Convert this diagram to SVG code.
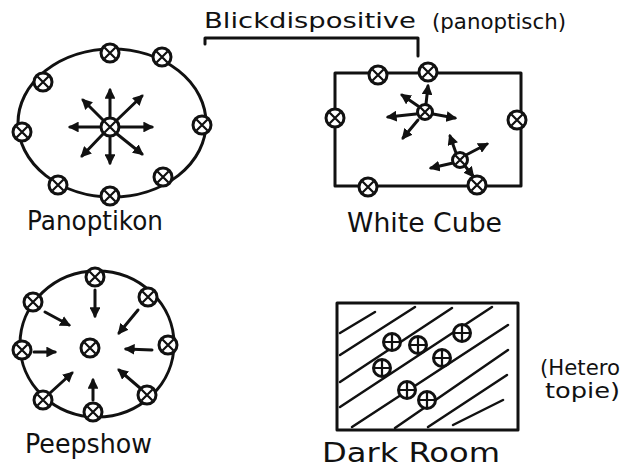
<svg xmlns="http://www.w3.org/2000/svg" width="626" height="467" viewBox="0 0 626 467">
<style>
.ln{fill:none;stroke:#111;stroke-width:3;stroke-linecap:round;stroke-linejoin:round}
.ar{fill:none;stroke:#111;stroke-width:3;stroke-linecap:round;marker-end:url(#ah)}
.hat{stroke:#111;stroke-width:2.5;stroke-linecap:round}
.t{font-family:"DejaVu Sans","Liberation Sans",sans-serif;fill:#111}
</style>
<defs>
<marker id="ah" viewBox="0 0 10 10" refX="8" refY="5" markerWidth="3.6" markerHeight="3.6" orient="auto" markerUnits="strokeWidth">
<path d="M0,0 L10,5 L0,10 z" fill="#111"/>
</marker>
<g id="dot">
<circle r="9" fill="#fff" stroke="#111" stroke-width="3"/>
<path d="M-5.5,-5.5 L5.5,5.5 M5.5,-5.5 L-5.5,5.5" stroke="#111" stroke-width="2.2"/>
</g>
<g id="sdot">
<circle r="7.5" fill="#fff" stroke="#111" stroke-width="3"/>
<path d="M-4.5,-4.5 L4.5,4.5 M4.5,-4.5 L-4.5,4.5" stroke="#111" stroke-width="2.2"/>
</g>
<g id="pdot">
<circle r="8.5" fill="#fff" stroke="#111" stroke-width="3"/>
<path d="M0,-7 L0,7 M-7,0 L7,0" stroke="#111" stroke-width="2.2"/>
</g>
</defs>
<rect width="626" height="467" fill="#fff"/>

<g id="title">
<text class="t" x="204" y="28" font-size="21" textLength="212" lengthAdjust="spacingAndGlyphs">Blickdispositive</text>
<text class="t" x="432" y="29" font-size="22" textLength="134" lengthAdjust="spacingAndGlyphs">(panoptisch)</text>
<path class="ln" d="M205,44 L205,38 L418,38 L418,56"/>
</g>

<g id="panoptikon">
<ellipse class="ln" cx="112" cy="123" rx="94" ry="74"/>
<g class="ar">
<line x1="110" y1="118" x2="110" y2="90"/>
<line x1="110" y1="136" x2="110" y2="163"/>
<line x1="101" y1="127" x2="70" y2="127"/>
<line x1="119" y1="127" x2="152" y2="127"/>
<line x1="103" y1="120" x2="83" y2="100"/>
<line x1="117" y1="120" x2="142" y2="96"/>
<line x1="103" y1="134" x2="82" y2="156"/>
<line x1="117" y1="134" x2="142" y2="154"/>
</g>
<use href="#dot" x="110" y="53"/>
<use href="#dot" x="162" y="57"/>
<use href="#dot" x="43" y="82"/>
<use href="#dot" x="22" y="132"/>
<use href="#dot" x="202" y="125"/>
<use href="#dot" x="58" y="185"/>
<use href="#dot" x="110" y="196"/>
<use href="#dot" x="163" y="177"/>
<use href="#dot" x="110" y="127"/>
<text class="t" x="27" y="230" font-size="26" textLength="136" lengthAdjust="spacingAndGlyphs">Panoptikon</text>
</g>

<g id="whitecube">
<rect class="ln" x="335" y="73" width="186" height="113"/>
<g class="ar">
<line x1="426" y1="104" x2="428" y2="86"/>
<line x1="418" y1="106" x2="402" y2="95"/>
<line x1="416" y1="114" x2="388" y2="117"/>
<line x1="418" y1="120" x2="403" y2="138"/>
<line x1="433" y1="114" x2="455" y2="118"/>
<line x1="456" y1="153" x2="450" y2="136"/>
<line x1="466" y1="155" x2="487" y2="144"/>
<line x1="453" y1="163" x2="431" y2="168"/>
<line x1="465" y1="166" x2="473" y2="176"/>
</g>
<use href="#dot" x="378" y="75"/>
<use href="#dot" x="428" y="72"/>
<use href="#dot" x="335" y="118"/>
<use href="#dot" x="517" y="120"/>
<use href="#dot" x="368" y="187"/>
<use href="#dot" x="477" y="185"/>
<use href="#sdot" x="425" y="112"/>
<use href="#sdot" x="460" y="160"/>
<text class="t" x="347" y="232" font-size="26" textLength="155" lengthAdjust="spacingAndGlyphs">White Cube</text>
</g>

<g id="peepshow">
<ellipse class="ln" cx="97" cy="344" rx="77" ry="73"/>
<g class="ar">
<line x1="95" y1="290" x2="95" y2="316"/>
<line x1="45" y1="312" x2="69" y2="325"/>
<line x1="138" y1="310" x2="119" y2="333"/>
<line x1="34" y1="352" x2="55" y2="352"/>
<line x1="152" y1="350" x2="126" y2="349"/>
<line x1="50" y1="393" x2="72" y2="373"/>
<line x1="93" y1="400" x2="93" y2="380"/>
<line x1="140" y1="388" x2="119" y2="370"/>
</g>
<use href="#dot" x="95" y="277"/>
<use href="#dot" x="33" y="302"/>
<use href="#dot" x="148" y="297"/>
<use href="#dot" x="22" y="350"/>
<use href="#dot" x="168" y="345"/>
<use href="#dot" x="43" y="400"/>
<use href="#dot" x="93" y="412"/>
<use href="#dot" x="147" y="395"/>
<use href="#dot" x="90" y="348"/>
<text class="t" x="25" y="453" font-size="26" textLength="127" lengthAdjust="spacingAndGlyphs">Peepshow</text>
</g>

<g id="darkroom">
<g class="hat">
<line x1="340" y1="333" x2="375" y2="312"/>
<line x1="340" y1="355" x2="415" y2="307"/>
<line x1="340" y1="382" x2="452" y2="308"/>
<line x1="340" y1="407" x2="492" y2="307"/>
<line x1="352" y1="427" x2="508" y2="325"/>
<line x1="395" y1="428" x2="508" y2="350"/>
<line x1="428" y1="427" x2="507" y2="375"/>
<line x1="453" y1="425" x2="503" y2="400"/>
</g>
<rect class="ln" x="337" y="303" width="181" height="127"/>
<use href="#pdot" x="392" y="342"/>
<use href="#pdot" x="418" y="345"/>
<use href="#pdot" x="462" y="333"/>
<use href="#pdot" x="442" y="358"/>
<use href="#pdot" x="382" y="368"/>
<use href="#pdot" x="407" y="390"/>
<use href="#pdot" x="427" y="400"/>
<text class="t" x="322" y="462" font-size="26" textLength="178" lengthAdjust="spacingAndGlyphs">Dark Room</text>
</g>

<g id="heterotopie">
<text class="t" x="540" y="375" font-size="22" textLength="80" lengthAdjust="spacingAndGlyphs">(Hetero</text>
<text class="t" x="545" y="398" font-size="22" textLength="75" lengthAdjust="spacingAndGlyphs">topie)</text>
</g>
</svg>
